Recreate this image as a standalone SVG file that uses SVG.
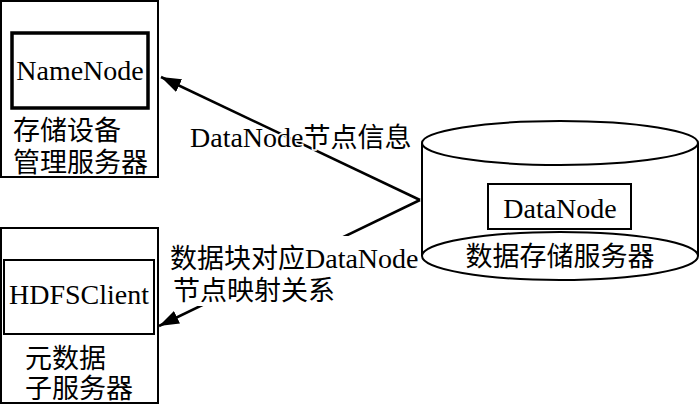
<svg xmlns="http://www.w3.org/2000/svg" width="700" height="404" viewBox="0 0 700 404">
<style>
text{font-family:"Liberation Serif","Noto Sans CJK SC",serif;font-size:27px;fill:#000}
.lat{font-size:28px}
.box{fill:none;stroke:#000;stroke-width:2}
.thick{fill:none;stroke:#000;stroke-width:3.5}
.conn{fill:none;stroke:#000;stroke-width:2.5}
.halo{stroke:#fff;stroke-width:3;paint-order:stroke}
</style>
<defs>
<marker id="arr" markerUnits="userSpaceOnUse" markerWidth="22" markerHeight="16" refX="20" refY="7" orient="auto">
<path d="M0,0 L20,7 L0,14 z" fill="#000"/>
</marker>
</defs>
<rect width="700" height="404" fill="#fff"/>
<g id="connectors">
<line class="conn" x1="420" y1="200" x2="161" y2="77" marker-end="url(#arr)"/>
<line class="conn" x1="420" y1="200" x2="159" y2="326" marker-end="url(#arr)"/>
</g>
<g id="namenode-server">
<rect class="box" x="1" y="1" width="157" height="176"/>
<rect class="thick" x="12" y="33" width="136" height="75"/>
<text class="lat" x="80" y="80" text-anchor="middle">NameNode</text>
<text x="13" y="140">存储设备</text>
<text x="13" y="172">管理服务器</text>
</g>
<g id="client-server">
<rect class="box" x="1" y="228" width="157" height="175"/>
<rect class="box" x="4" y="260" width="150" height="74"/>
<text class="lat" x="79" y="304" text-anchor="middle">HDFSClient</text>
<text x="25" y="368">元数据</text>
<text x="25" y="398">子服务器</text>
</g>
<g id="data-server">
<path class="box" d="M422,143 V256 M698,143 V256" stroke-width="2.5"/>
<ellipse class="box" cx="560" cy="143" rx="138" ry="22" stroke-width="2.5"/>
<ellipse class="box" cx="560" cy="256" rx="138" ry="24" stroke-width="2.5"/>
<rect class="box" x="488" y="184" width="143" height="45"/>
<text class="lat" x="560" y="218" text-anchor="middle">DataNode</text>
<text x="560" y="266" text-anchor="middle">数据存储服务器</text>
</g>
<g id="label-1">
<text class="halo" x="190" y="147"><tspan class="lat">DataNode</tspan>节点信息</text>
</g>
<g id="label-2">
<rect x="168" y="236" width="250" height="70" fill="#fff"/>
<text x="170" y="268">数据块对应<tspan class="lat">DataNode</tspan></text>
<text x="173" y="300">节点映射关系</text>
</g>
</svg>
